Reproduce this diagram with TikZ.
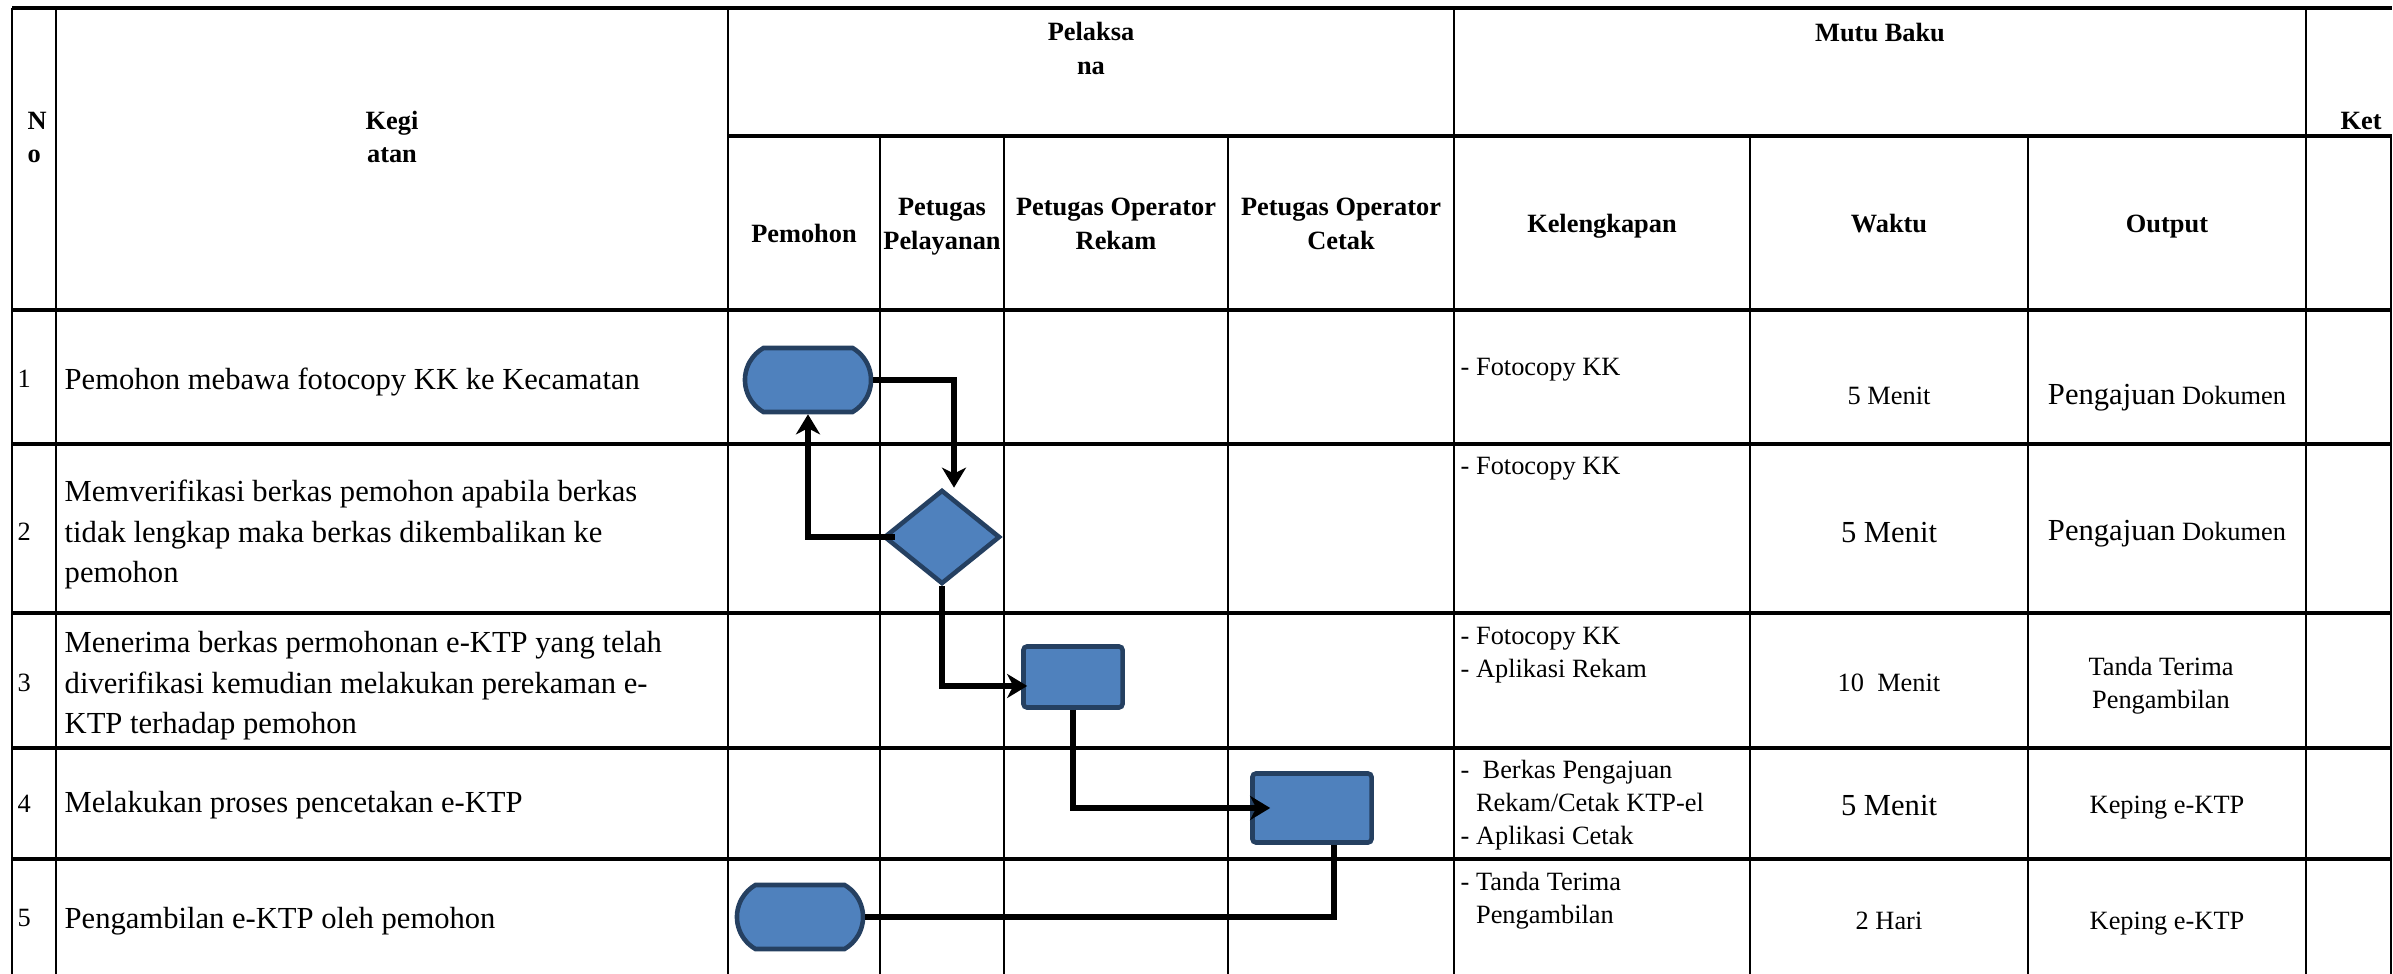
\documentclass[tikz,border=0pt]{standalone}
\usepackage{fontspec}
\setmainfont{Liberation Serif}
\usetikzlibrary{arrows.meta,shapes.geometric,shapes.misc,calc}
\definecolor{boxfill}{HTML}{4F81BD}
\definecolor{boxline}{HTML}{254061}
\newcommand\fbig{\fontsize{8.7}{11.4}\selectfont}
\newcommand\fsm{\fontsize{7.5}{9.4}\selectfont}
\newcommand\fhd{\fontsize{7.5}{9.5}\selectfont\bfseries}
\begin{document}
\begin{tikzpicture}[x=0.01cm,y=-0.01cm,
  hl/.style={line width=0.95pt},
  vl/.style={line width=0.65pt},
  hd/.style={inner sep=0pt,font=\fhd,yshift=-0.03cm},
  sm/.style={inner sep=0pt,font=\fsm,yshift=-0.03cm},
  bg/.style={inner sep=0pt,font=\fbig,yshift=-0.03cm},
  term/.style={rounded rectangle,rounded rectangle arc length=120,fill=boxfill,draw=boxline,line width=1.3pt,minimum width=1.26cm,minimum height=0.64cm,inner sep=0pt},
  dec/.style={diamond,fill=boxfill,draw=boxline,line width=1.3pt,minimum width=1.16cm,minimum height=0.94cm,inner sep=0pt},
  proc/.style={rectangle,rounded corners=1pt,fill=boxfill,draw=boxline,line width=1.3pt,inner sep=0pt},
  flow/.style={line width=1.7pt,black},
  arr/.style={flow,-{Stealth[length=0.2cm,width=0.24cm,inset=0.06cm]}}]
\useasboundingbox (0,0) rectangle (2393,974);
% table lines
\draw[hl] (12,8) -- (2392,8);
\draw[hl] (728,136) -- (2392,136);
\foreach \yy in {310,444,613,748,859} \draw[hl] (12,\yy) -- (2392,\yy);
\foreach \xx in {12,56,728,1454,2306} \draw[vl] (\xx,8) -- (\xx,974);
\foreach \xx in {880,1004,1228,1750,2028,2391} \draw[vl] (\xx,136) -- (\xx,974);
% header
\node[hd,align=left,anchor=west] (hno) at (27,136.5) {\strut N\\\strut o};
\node[hd,align=center] (hkeg) at (392,136.5) {\strut Kegi\\\strut atan};
\node[hd,align=center] (hpel) at (1091,48) {\strut Pelaksa\\\strut na};
\node[hd] (hmutu) at (1880,32) {\strut Mutu Baku};
\node[hd] (hket) at (2361,120) {\strut Ket};
\node[hd] (hpem) at (804,233) {\strut Pemohon};
\node[hd,align=center] (hpp) at (942,223) {\strut Petugas\\\strut Pelayanan};
\node[hd,align=center] (hopr) at (1116,223) {\strut Petugas Operator\\\strut Rekam};
\node[hd,align=center] (hopc) at (1341,223) {\strut Petugas Operator\\\strut Cetak};
\node[hd] (hkel) at (1602,223) {\strut Kelengkapan};
\node[hd] (hwak) at (1889,223) {\strut Waktu};
\node[hd] (hout) at (2167,223) {\strut Output};
% numbers
\node[sm,anchor=west] (n1) at (17,378) {\strut 1};
\node[sm,anchor=west] (n2) at (17,531) {\strut 2};
\node[sm,anchor=west] (n3) at (17,682) {\strut 3};
\node[sm,anchor=west] (n4) at (17,803) {\strut 4};
\node[sm,anchor=west] (n5) at (17,917) {\strut 5};
% kegiatan
\node[bg,anchor=west] (k1) at (64,378) {\strut Pemohon mebawa fotocopy KK ke Kecamatan};
\node[bg,anchor=west,align=left] (k2) at (64,531) {\strut Memverifikasi berkas pemohon apabila berkas\\\strut tidak lengkap maka berkas dikembalikan ke\\\strut pemohon};
\node[bg,anchor=west,align=left] (k3) at (64,682) {\strut Menerima berkas permohonan e-KTP yang telah\\\strut diverifikasi kemudian melakukan perekaman e-\\\strut KTP terhadap pemohon};
\node[bg,anchor=west] (k4) at (64,801) {\strut Melakukan proses pencetakan e-KTP};
\node[bg,anchor=west] (k5) at (64,917) {\strut Pengambilan e-KTP oleh pemohon};
% kelengkapan
\node[sm,anchor=west] (kl1) at (1460,366) {\strut - Fotocopy KK};
\node[sm,anchor=west] (kl2) at (1460,465) {\strut - Fotocopy KK};
\node[sm,anchor=west,align=left] (kl3) at (1460,651.5) {\strut - Fotocopy KK\\\strut - Aplikasi Rekam};
\node[sm,anchor=west,align=left] (kl4) at (1460,802) {\strut -\ \ Berkas Pengajuan\\\strut\hphantom{-}\ Rekam/Cetak KTP-el\\\strut - Aplikasi Cetak};
\node[sm,anchor=west,align=left] (kl5) at (1460,897) {\strut - Tanda Terima\\\strut\hphantom{-}\ Pengambilan};
% waktu
\node[sm] (w1) at (1889,395) {\strut 5 Menit};
\node[bg] (w2) at (1889,531) {\strut 5 Menit};
\node[sm] (w3) at (1889,682) {\strut 10\ \ Menit};
\node[bg] (w4) at (1889,804) {\strut 5 Menit};
\node[sm] (w5) at (1889,920) {\strut 2 Hari};
% output
\node[sm] (o1) at (2167,395) {\strut{\fbig Pengajuan} Dokumen};
\node[sm] (o2) at (2167,531) {\strut{\fbig Pengajuan} Dokumen};
\node[sm,align=center] (o3) at (2161,682) {\strut Tanda Terima\\\strut Pengambilan};
\node[sm] (o4) at (2167,804) {\strut Keping e-KTP};
\node[sm] (o5) at (2167,920) {\strut Keping e-KTP};
% flowchart
\node[term] (t1) at (808,380) {};
\node[dec] (dia) at (942,537) {};
\node[proc,minimum width=0.99cm,minimum height=0.61cm] (r1) at (1073,677) {};
\node[proc,minimum width=1.19cm,minimum height=0.69cm] (r2) at (1312,808) {};
\node[term] (t2) at (800,917) {};
\draw[arr] (t1.east) -| ($(dia.north)+(12,0)$);
\draw[arr] ($(dia.west)+(13,0)$) -| (t1.south);
\draw[arr] (dia.south) |- ($(r1.west)+(6,9)$);
\draw[arr] (r1.south) |- ($(r2.west)+(20,0)$);
\draw[flow] ($(r2.south)+(22,0)$) |- (t2.east);
\end{tikzpicture}
\end{document}
